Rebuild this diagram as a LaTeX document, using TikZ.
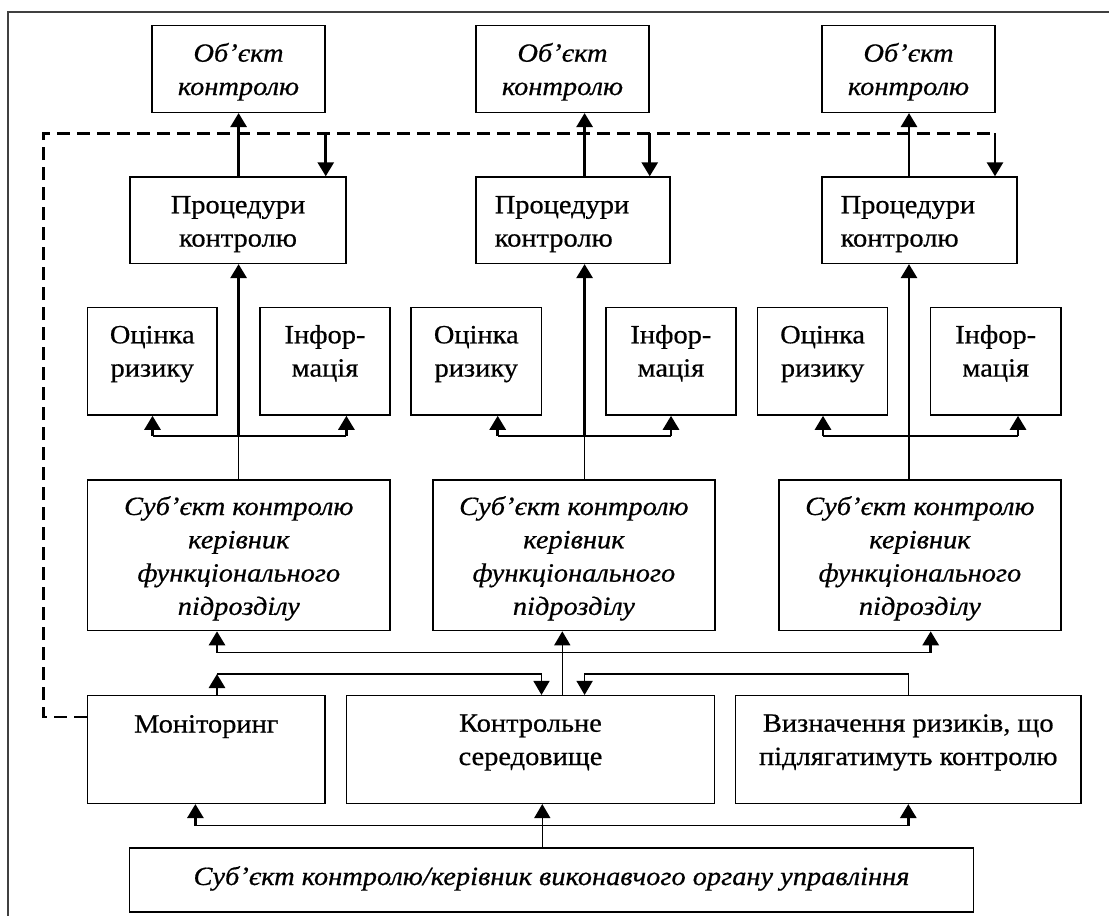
\documentclass[tikz,border=0pt]{standalone}
\usepackage{fontspec}
\setmainfont{Liberation Serif}[FakeStretch=1.08,FakeBold=0.6]
\usetikzlibrary{arrows.meta,calc}
\newcommand{\boxtxtc}[1]{\begin{tabular}[t]{@{}c@{}}#1\end{tabular}}
\newcommand{\boxtxtl}[1]{\begin{tabular}[t]{@{}l@{}}#1\end{tabular}}
\tikzset{
  bx/.style={draw, line width=1.5pt, inner sep=0pt, rectangle},
  txt/.style={inner sep=0pt, anchor=base, font=\fontsize{26.3}{33.3}\selectfont},
  itxt/.style={inner sep=0pt, anchor=base, font=\fontsize{26.3}{33.3}\selectfont\itshape},
  thinln/.style={line width=1.4pt},
  thickln/.style={line width=2.8pt},
  arr/.style={-{Triangle[length=14pt,width=16pt]}},
  dashln/.style={line width=2.8pt, dash pattern=on 13pt off 7pt},
}
\begin{document}
\begin{tikzpicture}[x=1pt,y=-1pt]
\useasboundingbox (0,0) rectangle (1109,916);
% outer frame: only its left and top edges are inside the picture
\draw[line width=1.3pt, black!75] (8,940) -- (8,12) -- (1130,12);

% boxes
\node[bx, minimum width=173pt, minimum height=86.6pt] (obj1) at (238.5,69) {};
\node[bx, minimum width=173pt, minimum height=86.6pt] (obj2) at (562.5,69) {};
\node[bx, minimum width=173pt, minimum height=86.6pt] (obj3) at (908.5,69) {};
\node[bx, minimum width=216pt, minimum height=86.3pt] (proc1) at (238,220.2) {};
\node[bx, minimum width=194pt, minimum height=86.3pt] (proc2) at (573,220.2) {};
\node[bx, minimum width=195pt, minimum height=86.3pt] (proc3) at (919.5,220.2) {};
\node[bx, minimum width=129.5pt, minimum height=107.7pt] (oc1) at (152.3,361.2) {};
\node[bx, minimum width=130pt, minimum height=107.7pt] (in1) at (325,361.2) {};
\node[bx, minimum width=130.7pt, minimum height=107.7pt] (oc2) at (476.3,361.2) {};
\node[bx, minimum width=129.7pt, minimum height=107.7pt] (in2) at (670.9,361.2) {};
\node[bx, minimum width=130.2pt, minimum height=107.7pt] (oc3) at (822.6,361.2) {};
\node[bx, minimum width=130.1pt, minimum height=107.7pt] (in3) at (995.7,361.2) {};
\node[bx, minimum width=302.5pt, minimum height=150.5pt] (sub1) at (238.8,555.3) {};
\node[bx, minimum width=281.7pt, minimum height=150.5pt] (sub2) at (573.9,555.3) {};
\node[bx, minimum width=281.7pt, minimum height=150.5pt] (sub3) at (919.9,555.3) {};
\node[bx, minimum width=237.5pt, minimum height=107.6pt] (mon) at (206.3,749.5) {};
\node[bx, minimum width=368.3pt, minimum height=107.6pt] (kon) at (530.5,749.5) {};
\node[bx, minimum width=345.8pt, minimum height=107.6pt] (viz) at (908.3,749.5) {};
\node[bx, minimum width=843.9pt, minimum height=64.3pt] (bot) at (551.5,879.9) {};

% texts
\node[itxt] (tobj1) at (238.5,61.7) {\boxtxtc{Об’єкт\\контролю}};
\node[itxt] (tobj2) at (562.5,61.7) {\boxtxtc{Об’єкт\\контролю}};
\node[itxt] (tobj3) at (908.5,61.7) {\boxtxtc{Об’єкт\\контролю}};
\node[txt] (tproc1) at (238,213.3) {\boxtxtc{Процедури\\контролю}};
\node[txt, anchor=base west] (tproc2) at (494.6,213.3) {\boxtxtl{Процедури\\контролю}};
\node[txt, anchor=base west] (tproc3) at (840.5,213.3) {\boxtxtl{Процедури\\контролю}};
\node[txt] (toc1) at (152.3,343.3) {\boxtxtc{Оцінка\\ризику}};
\node[txt] (tin1) at (325,343.3) {\boxtxtc{Інфор-\\мація}};
\node[txt] (toc2) at (476.3,343.3) {\boxtxtc{Оцінка\\ризику}};
\node[txt] (tin2) at (670.9,343.3) {\boxtxtc{Інфор-\\мація}};
\node[txt] (toc3) at (822.6,343.3) {\boxtxtc{Оцінка\\ризику}};
\node[txt] (tin3) at (995.7,343.3) {\boxtxtc{Інфор-\\мація}};
\node[itxt] (tsub1) at (238.8,515) {\boxtxtc{Суб’єкт контролю\\керівник\\функціонального\\підрозділу}};
\node[itxt] (tsub2) at (573.9,515) {\boxtxtc{Суб’єкт контролю\\керівник\\функціонального\\підрозділу}};
\node[itxt] (tsub3) at (919.9,515) {\boxtxtc{Суб’єкт контролю\\керівник\\функціонального\\підрозділу}};
\node[txt] (tmon) at (206.3,732.5) {Моніторинг};
\node[txt] (tkon) at (530.5,731.7) {\boxtxtc{Контрольне\\середовище}};
\node[txt] (tviz) at (908.3,731.7) {\boxtxtc{Визначення ризиків, що\\підлягатимуть контролю}};
\node[itxt] (tbot) at (551.5,885) {Суб’єкт контролю/керівник виконавчого органу управління};

% helper coordinates
\coordinate (v1) at (238.6,0);
\coordinate (v2) at (584.6,0);
\coordinate (v3) at (909,0);
\coordinate (dcorner) at (43.6,133.3);
\coordinate (dend) at (995,133.3);
\coordinate (jrow) at (0,436);

% dashed feedback from monitoring
\draw[dashln] ($(mon.north west)+(0,22)$) -| (dcorner) -- (dend);
\draw[thickln,arr] (obj1.south east |- dcorner) -- (proc1.north -| obj1.south east);
\draw[thickln,arr] (obj2.south east |- dcorner) -- (proc2.north -| obj2.south east);
\draw[thickln,arr] (dend) -- (proc3.north -| dend);

% procedures -> objects
\draw[thickln,arr] (proc1.north -| v1) -- (obj1.south -| v1);
\draw[thickln,arr] (proc2.north -| v2) -- (obj2.south -| v2);
\draw[thickln,arr] (proc3.north -| v3) -- (obj3.south -| v3);

% subjects -> procedures, with branches to risk/info
\foreach \i in {1,2,3}{
  \draw[thinln] (sub\i.north -| v\i) -- (v\i |- jrow);
  \draw[thickln,arr] (v\i |- jrow) -- (proc\i.south -| v\i);
}
\coordinate (b11) at (152.5,436);
\coordinate (b12) at (346.4,436);
\coordinate (b21) at (497.7,436);
\coordinate (b22) at (671,436);
\coordinate (b31) at (823,436);
\coordinate (b32) at (1018,436);
\draw[thinln] (b11) -- (b12);
\draw[thinln] (b21) -- (b22);
\draw[thinln] (b31) -- (b32);
\draw[thickln,arr] (b11) -- (oc1.south -| b11);
\draw[thickln,arr] (b12) -- (in1.south -| b12);
\draw[thickln,arr] (b21) -- (oc2.south -| b21);
\draw[thickln,arr] (b22) -- (in2.south -| b22);
\draw[thickln,arr] (b31) -- (oc3.south -| b31);
\draw[thickln,arr] (b32) -- (in3.south -| b32);

% control environment -> subjects
\coordinate (s1) at (217,652.5);
\coordinate (s3) at (930.7,652.5);
\coordinate (kup) at (562.3,0);
\draw[thinln] (s1) -- (s3);
\draw[thickln,arr] (s1) -- (sub1.south -| s1);
\draw[thickln,arr] (s3) -- (sub3.south -| s3);
\draw[thinln,arr] (kon.north -| kup) -- (sub2.south -| kup);

% monitoring -> control environment
\coordinate (m1) at (217,674);
\coordinate (m2) at (541.5,674);
\draw[thickln,arr] (mon.north -| m1) -- (m1);
\draw[thinln,arr] (m1) -- (m2) -- (kon.north -| m2);
% risk definition -> control environment
\coordinate (r1) at (908.3,674);
\coordinate (r2) at (584.6,674);
\draw[thinln,arr] (viz.north) -- (r1) -- (r2) -- (kon.north -| r2);

% executive subject -> middle row
\coordinate (e0) at (542.3,0);
\coordinate (e1) at (195.4,825.7);
\coordinate (e2) at (908.3,825.7);
\draw[thinln,arr] (bot.north -| e0) -- (kon.south -| e0);
\draw[thinln] (e1) -- (e2);
\draw[thickln,arr] (e1) -- (mon.south -| e1);
\draw[thickln,arr] (e2) -- (viz.south -| e2);
\end{tikzpicture}
\end{document}
